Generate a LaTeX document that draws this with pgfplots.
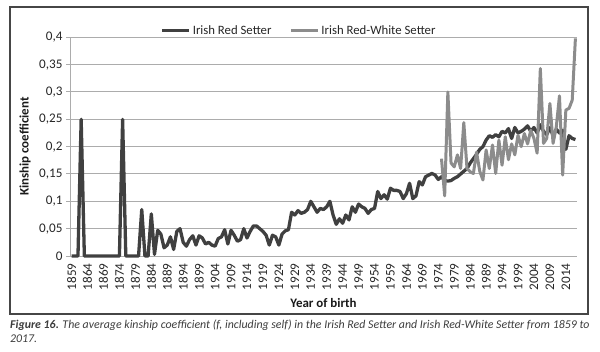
\documentclass[border=0pt]{standalone}
\usepackage{fontspec}
\setmainfont{Carlito}
\usepackage{pgfplots}
\pgfplotsset{compat=1.18}
\definecolor{darkser}{RGB}{64,64,64}
\definecolor{lightser}{RGB}{140,140,140}
\definecolor{gridc}{RGB}{172,172,172}
\definecolor{framec}{RGB}{70,70,70}
\definecolor{capc}{RGB}{60,60,60}
\begin{document}
\begin{tikzpicture}
\path[use as bounding box] (0,0) rectangle (600bp,352bp);
\draw[framec, line width=1.3bp] (10bp,38bp) rectangle (588bp,345bp);
\begin{axis}[
  at={(70bp,96bp)}, anchor=south west,
  scale only axis, width=507bp, height=218.7bp,
  xmin=1858.5, xmax=2017.5, ymin=0, ymax=0.4,
  axis x line*=bottom, axis y line*=left,
  axis line style={gridc, line width=1bp},
  tick align=outside,
  major tick length=4bp, minor tick length=4bp,
  xtick={1859,1864,...,2014},
  xticklabels={1859,1864,1869,1874,1879,1884,1889,1894,1899,1904,1909,1914,1919,1924,1929,1934,1939,1944,1949,1954,1959,1964,1969,1974,1979,1984,1989,1994,1999,2004,2009,2014},
  minor xtick={1858.5,1859.5,...,2017.5},
  xtick style={draw=none},
  xminorgrids=false,
  every minor tick/.style={gridc, line width=0.8bp},
  ytick={0,0.05,0.1,0.15,0.2,0.25,0.3,0.35,0.4},
  yticklabels={0,{0,05},{0,1},{0,15},{0,2},{0,25},{0,3},{0,35},{0,4}},
  ytick style={gridc, line width=1bp},
  ymajorgrids, grid style={gridc, line width=1bp},
  tick label style={font=\fontsize{13.2}{15}\selectfont, black!85},
  xticklabel style={rotate=90, anchor=east},
  /pgf/number format/assume math mode=true,
  xlabel={Year of birth},
  ylabel={Kinship coefficient},
  every axis x label/.style={at={(axis description cs:0.5,-0.2135)}, anchor=center,
    font=\fontsize{13}{15}\selectfont\bfseries, text=black!90},
  every axis y label/.style={at={(axis description cs:-0.0888,0.5)}, rotate=90, anchor=center,
    font=\fontsize{13}{15}\selectfont\bfseries, text=black!90},
  legend columns=2,
  legend style={at={(axis description cs:0.4517,1.03)}, anchor=center, draw=none, fill=none,
    font=\fontsize{12.8}{14}\selectfont, text=black!85,
    /tikz/every even column/.append style={column sep=16bp}},
  legend image code/.code={\draw[#1] (0bp,0bp) -- (27bp,0bp);},
  clip=false,
]
\addplot[darkser, line width=3.3bp, line join=round] table[row sep=\\] {
x y\\
1859 0\\ 1860 0\\ 1861 0\\ 1862 0.25\\ 1863 0\\ 1864 0\\ 1865 0\\ 1866 0\\ 1867 0\\ 1868 0\\
1869 0\\ 1870 0\\ 1871 0\\ 1872 0\\ 1873 0\\ 1874 0\\ 1875 0.25\\ 1876 0\\ 1877 0\\ 1878 0\\
1879 0\\ 1880 0\\ 1881 0.085\\ 1882 0\\ 1883 0\\ 1884 0.077\\ 1885 0.003\\ 1886 0.047\\ 1887 0.04\\ 1888 0.015\\
1889 0.02\\ 1890 0.035\\ 1891 0.012\\ 1892 0.045\\ 1893 0.05\\ 1894 0.025\\ 1895 0.018\\ 1896 0.03\\ 1897 0.037\\ 1898 0.02\\
1899 0.037\\ 1900 0.033\\ 1901 0.022\\ 1902 0.025\\ 1903 0.02\\ 1904 0.018\\ 1905 0.032\\ 1906 0.035\\ 1907 0.048\\ 1908 0.022\\
1909 0.047\\ 1910 0.038\\ 1911 0.027\\ 1912 0.03\\ 1913 0.05\\ 1914 0.033\\ 1915 0.045\\ 1916 0.055\\ 1917 0.055\\ 1918 0.05\\
1919 0.045\\ 1920 0.038\\ 1921 0.02\\ 1922 0.038\\ 1923 0.035\\ 1924 0.02\\ 1925 0.04\\ 1926 0.046\\ 1927 0.048\\ 1928 0.08\\
1929 0.075\\ 1930 0.083\\ 1931 0.078\\ 1932 0.08\\ 1933 0.085\\ 1934 0.1\\ 1935 0.09\\ 1936 0.08\\ 1937 0.087\\ 1938 0.085\\
1939 0.09\\ 1940 0.1\\ 1941 0.075\\ 1942 0.058\\ 1943 0.068\\ 1944 0.06\\ 1945 0.075\\ 1946 0.066\\ 1947 0.09\\ 1948 0.08\\
1949 0.095\\ 1950 0.09\\ 1951 0.087\\ 1952 0.078\\ 1953 0.085\\ 1954 0.087\\ 1955 0.118\\ 1956 0.105\\ 1957 0.112\\ 1958 0.104\\
1959 0.124\\ 1960 0.12\\ 1961 0.12\\ 1962 0.118\\ 1963 0.105\\ 1964 0.114\\ 1965 0.133\\ 1966 0.105\\ 1967 0.11\\ 1968 0.136\\
1969 0.13\\ 1970 0.145\\ 1971 0.148\\ 1972 0.151\\ 1973 0.148\\ 1974 0.14\\ 1975 0.145\\ 1976 0.138\\ 1977 0.137\\ 1978 0.138\\
1979 0.142\\ 1980 0.145\\ 1981 0.15\\ 1982 0.155\\ 1983 0.16\\ 1984 0.17\\ 1985 0.178\\ 1986 0.186\\ 1987 0.195\\ 1988 0.2\\
1989 0.212\\ 1990 0.22\\ 1991 0.217\\ 1992 0.222\\ 1993 0.218\\ 1994 0.228\\ 1995 0.225\\ 1996 0.233\\ 1997 0.215\\ 1998 0.235\\
1999 0.225\\ 2000 0.228\\ 2001 0.232\\ 2002 0.238\\ 2003 0.228\\ 2004 0.235\\ 2005 0.225\\ 2006 0.24\\ 2007 0.228\\ 2008 0.222\\
2009 0.235\\ 2010 0.22\\ 2011 0.232\\ 2012 0.225\\ 2013 0.23\\ 2014 0.195\\ 2015 0.22\\ 2016 0.215\\ 2017 0.213\\
};
\addlegendentry{Irish Red Setter}
\addplot[lightser, line width=3bp, line join=round] table[row sep=\\] {
x y\\
1975 0.178\\ 1976 0.11\\ 1977 0.3\\ 1978 0.17\\ 1979 0.163\\ 1980 0.185\\ 1981 0.16\\ 1982 0.244\\ 1983 0.16\\ 1984 0.154\\
1985 0.151\\ 1986 0.19\\ 1987 0.155\\ 1988 0.139\\ 1989 0.194\\ 1990 0.16\\ 1991 0.203\\ 1992 0.151\\ 1993 0.212\\ 1994 0.166\\
1995 0.218\\ 1996 0.176\\ 1997 0.205\\ 1998 0.185\\ 1999 0.221\\ 2000 0.2\\ 2001 0.224\\ 2002 0.205\\ 2003 0.23\\ 2004 0.215\\
2005 0.188\\ 2006 0.343\\ 2007 0.206\\ 2008 0.215\\ 2009 0.279\\ 2010 0.206\\ 2011 0.236\\ 2012 0.293\\ 2013 0.148\\ 2014 0.267\\
2015 0.27\\ 2016 0.285\\ 2017 0.398\\
};
\addlegendentry{Irish Red-White Setter}
\end{axis}
\node[anchor=west, inner sep=0pt, text=capc, font=\fontsize{11.9}{13}\selectfont\itshape] at (10bp,27bp)
  {\textbf{Figure 16.} The average kinship coefficient (f, including self) in the Irish Red Setter and Irish Red-White Setter from 1859 to};
\node[anchor=west, inner sep=0pt, text=capc, font=\fontsize{11.9}{13}\selectfont\itshape] at (10bp,13bp) {2017.};
\end{tikzpicture}
\end{document}
